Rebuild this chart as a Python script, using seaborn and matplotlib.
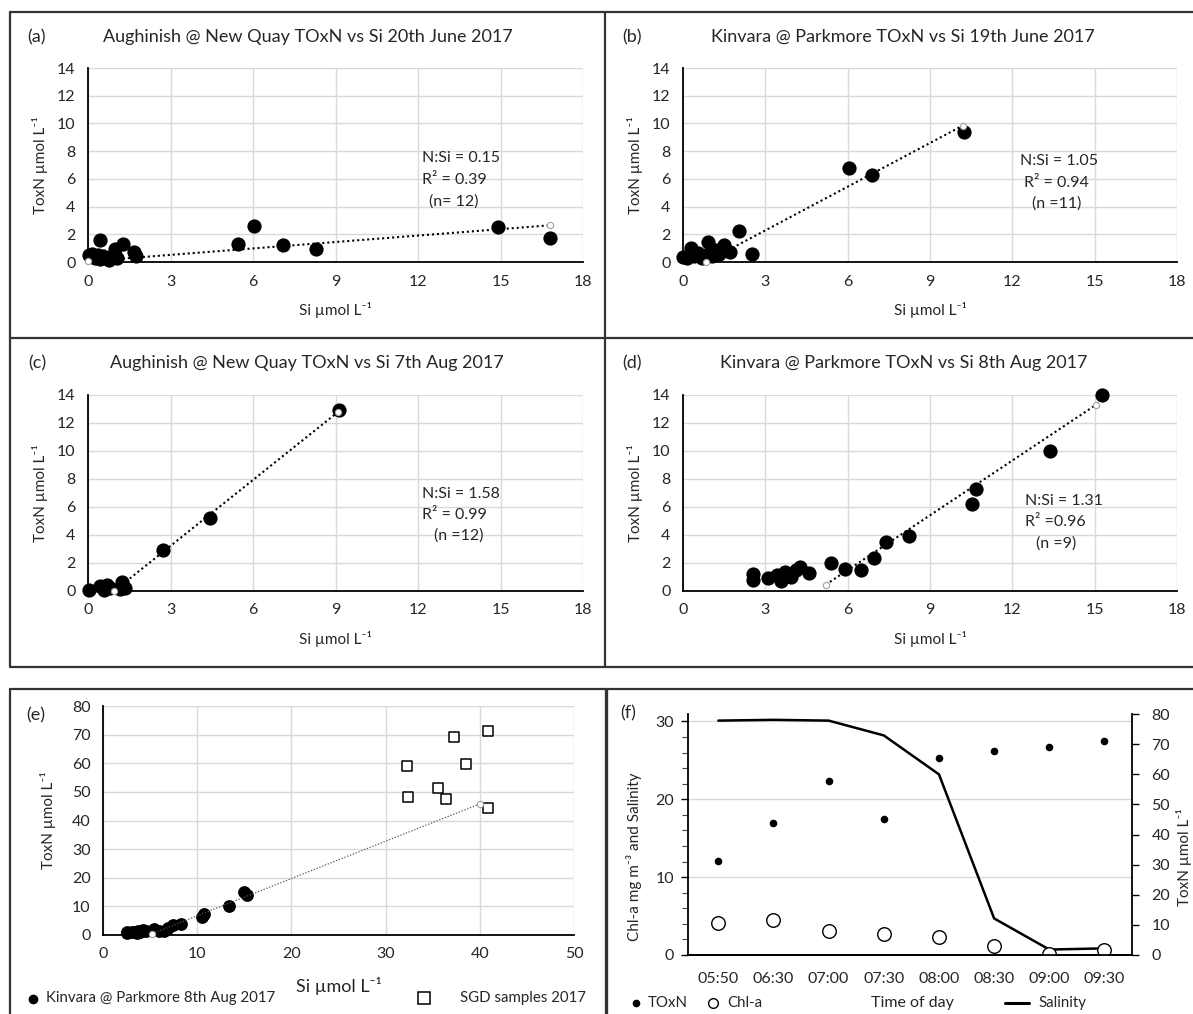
import numpy as np
import matplotlib
matplotlib.use("Agg")
import matplotlib.pyplot as plt
from matplotlib.lines import Line2D
import seaborn as sns

# ---------------- data ----------------
# (a) Aughinish @ New Quay, 20th June 2017
a_si = [0.05, 0.15, 0.25, 0.35, 0.42, 0.45, 0.55, 0.65, 0.75, 0.85, 0.95, 0.98, 1.05,
        1.28, 1.68, 1.75, 5.45, 6.05, 7.1, 8.3, 14.9, 16.8]
a_toxn = [0.5, 0.6, 0.3, 0.5, 1.6, 0.2, 0.4, 0.3, 0.15, 0.35, 0.5, 0.95, 0.3,
          1.3, 0.75, 0.45, 1.33, 2.6, 1.2, 0.92, 2.49, 1.74]
a_fit_si = [0.0, 16.8]
a_fit_toxn = [0.05, 2.65]

# (b) Kinvara @ Parkmore, 19th June 2017
b_si = [0.0, 0.15, 0.3, 0.4, 0.55, 0.7, 0.85, 0.9, 1.05, 1.2, 1.3, 1.5, 1.7,
        2.05, 2.5, 6.05, 6.9, 10.25]
b_toxn = [0.35, 0.3, 1.0, 0.4, 0.65, 0.3, 0.5, 1.45, 0.4, 0.9, 0.55, 1.2, 0.75,
          2.25, 0.55, 6.8, 6.3, 9.4]
b_fit_si = [0.83, 10.2]
b_fit_toxn = [0.0, 9.85]

# (c) Aughinish @ New Quay, 7th Aug 2017
c_si = [0.05, 0.45, 0.6, 0.7, 0.8, 1.15, 1.24, 1.35, 2.74, 4.44, 9.12]
c_toxn = [0.05, 0.38, 0.1, 0.43, 0.2, 0.15, 0.64, 0.22, 2.96, 5.22, 12.95]
c_fit_si = [0.95, 9.1]
c_fit_toxn = [0.0, 12.8]

# (d) Kinvara @ Parkmore, 8th Aug 2017
d_si = [2.55, 2.55, 3.1, 3.43, 3.57, 3.72, 3.94, 4.12, 4.26, 4.58, 5.4, 5.9,
        6.5, 6.95, 7.41, 8.24, 10.54, 10.67, 13.36, 15.26]
d_toxn = [1.18, 0.82, 0.93, 1.14, 0.71, 1.36, 1.0, 1.5, 1.71, 1.29, 2.03, 1.57,
          1.48, 2.39, 3.5, 3.94, 6.2, 7.28, 9.98, 14.0]
d_fit_si = [5.2, 15.05]
d_fit_toxn = [0.45, 13.3]

# (e) Kinvara 8th Aug 2017 together with SGD samples
e_kin_si = [2.55, 2.55, 3.1, 3.43, 3.57, 3.72, 3.94, 4.12, 4.26, 4.58, 5.4, 5.9,
            6.5, 6.95, 7.41, 8.24, 10.54, 10.67, 13.36, 14.95, 15.26]
e_kin_toxn = [1.18, 0.82, 0.93, 1.14, 0.71, 1.36, 1.0, 1.5, 1.71, 1.29, 2.03, 1.57,
              1.48, 2.39, 3.5, 3.94, 6.2, 7.28, 9.98, 15.0, 14.0]
e_sgd_si = [32.3, 32.4, 35.6, 36.4, 37.3, 38.5, 40.9, 40.9]
e_sgd_toxn = [59.1, 48.3, 51.5, 47.4, 69.3, 59.7, 71.2, 44.4]
e_fit_si = [5.2, 40.0]
e_fit_toxn = [0.45, 45.8]

# (f) time series
f_time = ["05:50", "06:30", "07:00", "07:30", "08:00", "08:30", "09:00", "09:30"]
f_toxn = [31.2, 43.9, 57.6, 45.1, 65.3, 67.8, 69.0, 71.1]
f_chla = [4.1, 4.45, 3.1, 2.7, 2.3, 1.1, 0.17, 0.6]
f_salinity = [30.1, 30.2, 30.1, 28.2, 23.2, 4.7, 0.7, 0.85]

# ---------------- style ----------------
sns.set_theme(style="white")
plt.rcParams['font.family'] = ['Lato', 'DejaVu Sans']
TXT = '#262626'
GRID = '#d9d9d9'
TICK_FS = 11.5
NOTE_FS = 11.5
LABEL_FS = 11
TITLE_FS = 13
LEGEND_FS = 10.8

W, H = 1193, 1014
fig = plt.figure(figsize=(W / 100, H / 100), dpi=100)


def rect(left, right, bottom, top):
    return [left / W, 1 - bottom / H, (right - left) / W, (bottom - top) / H]


def fx(px):
    return px / W


def fy(py):
    return 1 - py / H


def style_scatter_axes(ax, xmax, xstep, ymax, ystep):
    ax.set_xlim(0, xmax)
    ax.set_ylim(0, ymax)
    ax.set_xticks(np.arange(0, xmax + 0.01, xstep))
    ax.set_yticks(np.arange(0, ymax + 0.01, ystep))
    ax.grid(True, color=GRID, linewidth=1.0)
    ax.set_axisbelow(True)
    for s in ['top', 'right']:
        ax.spines[s].set_visible(False)
    for s in ['left', 'bottom']:
        ax.spines[s].set_color('black')
        ax.spines[s].set_linewidth(1.3)
        ax.spines[s].set_zorder(1.5)
    ax.tick_params(length=0, labelsize=TICK_FS, colors=TXT)
    ax.tick_params(axis='x', pad=9)
    ax.tick_params(axis='y', pad=9)
    ax.set_xlabel("Si µmol L⁻¹", fontsize=LABEL_FS, color=TXT)
    ax.set_ylabel("ToxN µmol L⁻¹", fontsize=LABEL_FS, color=TXT)


def trend(ax, xs, ys, lw=1.5, color='black'):
    sns.lineplot(x=xs, y=ys, ax=ax, color=color, linewidth=lw,
                 linestyle=(0, (1, 1.4)), sort=False, marker='o', markersize=4.5,
                 markerfacecolor='white', markeredgecolor='#a0a0a0',
                 markeredgewidth=0.8, zorder=4, clip_on=False)


def dots(ax, xs, ys, size=105):
    sns.scatterplot(x=xs, y=ys, ax=ax, color='black', s=size, linewidth=0,
                    zorder=3, clip_on=False, legend=False)


panels = [
    ("(a)", "Aughinish @ New Quay TOxN vs Si 20th June 2017",
     rect(88, 583, 262, 68), a_si, a_toxn, a_fit_si, a_fit_toxn,
     ("N:Si = 0.15", "R² = 0.39", "(n= 12)"), [(12.15, 7.5), (12.15, 5.94), (12.4, 4.37)],
     (37, 37), (308, 37)),
    ("(b)", "Kinvara @ Parkmore TOxN vs Si 19th June 2017",
     rect(683, 1177, 262, 68), b_si, b_toxn, b_fit_si, b_fit_toxn,
     ("N:Si = 1.05", "R² = 0.94", "(n =11)"), [(12.29, 7.26), (12.42, 5.73), (12.71, 4.2)],
     (632, 37), (903, 37)),
    ("(c)", "Aughinish @ New Quay TOxN vs Si 7th Aug 2017",
     rect(88, 583, 591, 395), c_si, c_toxn, c_fit_si, c_fit_toxn,
     ("N:Si = 1.58", "R² = 0.99", "(n =12)"), [(12.15, 6.92), (12.15, 5.42), (12.57, 3.94)],
     (37, 363), (307, 363)),
    ("(d)", "Kinvara @ Parkmore TOxN vs Si 8th Aug 2017",
     rect(683, 1177, 591, 395), d_si, d_toxn, d_fit_si, d_fit_toxn,
     ("N:Si = 1.31", "R² =0.96", "(n =9)"), [(12.47, 6.44), (12.47, 4.94), (12.88, 3.39)],
     (632, 363), (904, 363)),
]

for tag, title, r, xs, ys, fxs, fys, notes, note_pos, tag_xy, title_xy in panels:
    ax = fig.add_axes(r)
    style_scatter_axes(ax, 18, 3, 14, 2)
    dots(ax, xs, ys)
    trend(ax, fxs, fys)
    ax.yaxis.set_label_coords(-0.08, 0.5)
    ax.xaxis.set_label_coords(0.5, -0.205)
    for txt, (tx, ty) in zip(notes, note_pos):
        ax.text(tx, ty, txt, fontsize=NOTE_FS, color=TXT, ha='left', va='center')
    fig.text(fx(tag_xy[0]), fy(tag_xy[1]), tag, fontsize=TITLE_FS, color=TXT,
             ha='center', va='center')
    fig.text(fx(title_xy[0]), fy(title_xy[1]), title, fontsize=TITLE_FS, color=TXT,
             ha='center', va='center')

# ---------------- panel (e) ----------------
ax_e = fig.add_axes(rect(103, 574, 935, 706))
style_scatter_axes(ax_e, 50, 10, 80, 10)
dots(ax_e, e_kin_si, e_kin_toxn, size=85)
sns.scatterplot(x=e_sgd_si, y=e_sgd_toxn, ax=ax_e, marker='s', s=42,
                facecolor='white', edgecolor='black', linewidth=1.1,
                zorder=3, legend=False)
trend(ax_e, e_fit_si, e_fit_toxn, lw=0.9, color='#555555')
ax_e.set_xlabel("")
ax_e.yaxis.set_label_coords(-0.1, 0.5)
fig.text(fx(339), fy(986), "Si µmol L⁻¹", fontsize=13, color=TXT, ha='center', va='center')
fig.text(fx(36), fy(715), "(e)", fontsize=TITLE_FS, color=TXT, ha='center', va='center')
fig.add_artist(Line2D([fx(33)], [fy(999)], marker='o', markersize=6, color='black',
                      linestyle='none', transform=fig.transFigure))
fig.text(fx(46), fy(998), "Kinvara @ Parkmore 8th Aug 2017", fontsize=LEGEND_FS,
         color=TXT, ha='left', va='center')
fig.add_artist(Line2D([fx(424)], [fy(998)], marker='s', markersize=8.5,
                      markerfacecolor='white', markeredgecolor='black',
                      markeredgewidth=1.1, linestyle='none', transform=fig.transFigure))
fig.text(fx(460), fy(998), "SGD samples 2017", fontsize=LEGEND_FS, color=TXT,
         ha='left', va='center')

# ---------------- panel (f) ----------------
ax_f = fig.add_axes(rect(688, 1132, 955, 714))
ax_r = ax_f.twinx()
sns.lineplot(x=f_time, y=f_salinity, ax=ax_f, color='black', linewidth=1.8,
             sort=False, zorder=3)
sns.scatterplot(x=f_time, y=f_chla, ax=ax_f, s=95, facecolor='white',
                edgecolor='black', linewidth=1.0, zorder=4, legend=False)
sns.scatterplot(x=f_time, y=f_toxn, ax=ax_r, s=30, color='black', linewidth=0,
                zorder=4, legend=False)
ax_f.set_xlim(-0.55, 7.5)
ax_f.set_ylim(0, 30.95)
ax_r.set_ylim(0, 80)
ax_f.set_yticks([0, 10, 20, 30])
ax_f.set_yticks(np.arange(0, 31, 2), minor=True)
ax_r.set_yticks(np.arange(0, 81, 10))
ax_f.yaxis.grid(True, color=GRID, linewidth=1.0)
ax_f.set_axisbelow(True)
for a in (ax_f, ax_r):
    a.spines['top'].set_visible(False)
    for s in ['left', 'right', 'bottom']:
        a.spines[s].set_color('black')
        a.spines[s].set_linewidth(1.3)
ax_f.spines['right'].set_visible(False)
ax_r.spines['left'].set_visible(False)
ax_f.tick_params(axis='y', which='major', length=5, width=1.0, color='black',
                 labelsize=TICK_FS, labelcolor=TXT, pad=5, left=True)
ax_f.tick_params(axis='y', which='minor', length=4, width=0.8, color='#444444', left=True)
ax_f.tick_params(axis='x', length=0, labelsize=TICK_FS, labelcolor=TXT, pad=12)
ax_r.tick_params(axis='y', length=5, width=1.0, color='black', labelsize=TICK_FS,
                 labelcolor=TXT, pad=9, right=True)
ax_f.set_xlabel("")
ax_f.set_ylabel("")
ax_r.set_ylabel("")
fig.text(fx(634), fy(857), "Chl-a mg m⁻³ and Salinity", rotation=90, fontsize=LABEL_FS,
         color=TXT, ha='center', va='center')
fig.text(fx(1184), fy(857), "ToxN µmol L⁻¹", rotation=90, fontsize=LABEL_FS,
         color=TXT, ha='center', va='center')
fig.text(fx(628), fy(713), "(f)", fontsize=TITLE_FS, color=TXT, ha='center', va='center')
fig.add_artist(Line2D([fx(636)], [fy(1003)], marker='o', markersize=4.5, color='black',
                      linestyle='none', transform=fig.transFigure))
fig.text(fx(648), fy(1003), "TOxN", fontsize=LEGEND_FS, color=TXT, ha='left', va='center')
fig.add_artist(Line2D([fx(713)], [fy(1003)], marker='o', markersize=7,
                      markerfacecolor='white', markeredgecolor='black',
                      markeredgewidth=1.0, linestyle='none', transform=fig.transFigure))
fig.text(fx(727), fy(1003), "Chl-a", fontsize=LEGEND_FS, color=TXT, ha='left', va='center')
fig.text(fx(912), fy(1003), "Time of day", fontsize=11.5, color=TXT, ha='center',
         va='center')
fig.add_artist(Line2D([fx(1005), fx(1029)], [fy(1003), fy(1003)], color='black',
                      linewidth=2.2, transform=fig.transFigure))
fig.text(fx(1038), fy(1003), "Salinity", fontsize=LEGEND_FS, color=TXT, ha='left',
         va='center')

# ---------------- panel frames ----------------
FR = '#333333'


def hline(y, x0, x1, lw=1.6):
    fig.add_artist(Line2D([fx(x0), fx(x1)], [fy(y), fy(y)], color=FR, linewidth=lw,
                          transform=fig.transFigure))


def vline(x, y0, y1, lw=1.6):
    fig.add_artist(Line2D([fx(x), fx(x)], [fy(y0), fy(y1)], color=FR, linewidth=lw,
                          transform=fig.transFigure))


hline(12, 10, W)
hline(337.5, 10, W)
hline(667, 10, W)
vline(10, 12, 667)
vline(605, 12, 667)
hline(689, 10, W)
vline(10, 689, H)
vline(606, 689, H, lw=2.4)

fig.savefig("out.png", dpi=100)
